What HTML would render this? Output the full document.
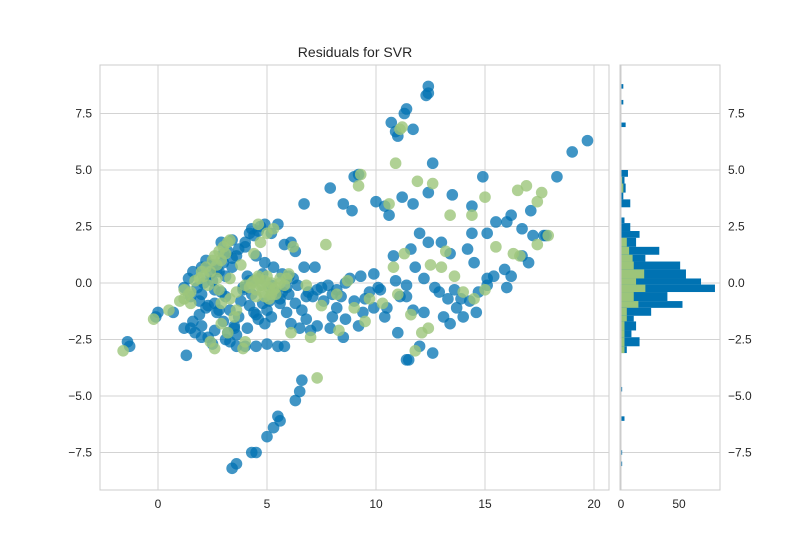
<!DOCTYPE html>
<html><head><meta charset="utf-8"><style>
body{margin:0;background:#fff;font-family:"Liberation Sans",sans-serif}
svg text{font-family:"Liberation Sans",sans-serif;fill:#262626}
</style></head><body>
<svg id="c" width="800" height="550">
<rect width="800" height="550" fill="#fff"/>
<text x="355" y="57" font-size="14" text-anchor="middle">Residuals for SVR</text>
<g id="main"></g>
<g id="hist"></g>
</svg>
<script>
const xTicks=[0,5,10,15,20];
const yTicks=[-7.5,-5.0,-2.5,0.0,2.5,5.0,7.5];
const histTicks=[0,50];
const trainX=[3.4,3.6,4.3,4.5,5.0,5.3,5.5,5.6,6.3,6.5,6.6,-1.4,-1.3,-0.1,0.0,1.3,1.2,0.7,3.3,3.6,4,4.5,5,5.5,5.8,11.4,11.3,12.4,12.3,12.4,10.7,10.9,11.7,11.0,12.6,19.0,19.7,18.3,9.0,9.2,7.9,6.7,8.5,8.9,10.0,10.4,10.6,11.2,11.7,12.4,13.5,14.4,14.9,14.4,15.1,16.2,16.7,16.0,17.1,17.8,17.7,14.5,16.2,16.7,17.2,15.9,15.4,15.1,15.5,12.0,11.6,12.4,13.0,13.4,14.2,10.8,12.2,11.8,12.7,12.9,11.7,12.2,11.1,11.4,10.5,10.2,9.9,8.8,8.2,8.6,9.0,9.5,9.7,10.1,13.6,13.3,13.7,14.0,13.4,14.3,14.7,15.1,12.0,12.6,11.4,11.5,11.0,8.2,8.6,9.2,8.5,7.9,7.3,6.8,6.6,6.3,6.8,7.3,7.8,7.1,7.6,6.5,7.0,6.1,5.9,5.6,6.7,7.2,6.3,5.8,5.2,4.9,4.4,4.0,3.6,3.4,3.1,2.9,2.6,2.2,1.9,1.6,1.5,1.7,2.0,2.3,2.5,3.1,3.0,3.3,3.8,4.2,4.6,4.9,5.2,5.4,4.7,4.1,3.9,2.8,2.5,2.2,2.0,1.6,1.4,1.2,1.5,2.0,2.5,3.2,3.0,4.2,4.7,5.5,6.1,5.9,6.2,6.0,5.7,4.3,3.7,3.5,2.7,5.3,4.5,8.4,9.3,9.9,10.4,8.0,9.4,14.6,13.9,16.0,17.0,13.1,10.9,11.4,
1.8,2.1,2.4,2.7,3.0,3.4,3.7,4.0,4.3,4.6,4.9,5.2,2.0,2.6,3.2,3.6,4.1,4.5,5.0,1.9,2.3,2.8,3.5,4.4,4.8,5.6,6.4,6.9,7.5,8.0,2.6,3.1,3.9,4.2,2.9,3.4,4.8,5.1,5.7,6.0];
const trainY=[-8.2,-8.0,-7.5,-7.5,-6.8,-6.4,-5.9,-6.1,-5.2,-4.8,-4.3,-2.6,-2.8,-1.5,-1.3,-3.2,-2.0,-1.3,-2.6,-2.8,-2.8,-2.8,-2.7,-2.8,-2.8,7.7,7.5,8.7,8.3,8.4,7.1,6.7,6.8,6.5,5.3,5.8,6.3,4.7,4.7,4.8,4.2,3.5,3.5,3.2,3.6,3.4,3.0,3.8,3.5,4.0,3.9,3.4,4.7,2.2,2.2,3.0,2.4,2.7,3.2,2.1,2.1,0.9,0.3,1.2,2.1,0.6,0.3,0.2,2.7,2.2,1.5,1.8,1.8,1.3,1.5,1.2,0.2,0.7,-0.2,-0.4,-1.2,-1.3,-0.6,-0.6,-1.1,-0.3,0.4,0.2,-0.3,0.0,-0.8,-0.7,-0.4,-0.2,-0.3,-0.7,-1.1,-1.5,-1.8,-0.8,-0.4,-0.1,-2.8,-3.1,-3.4,-3.4,-2.2,-1.1,-1.6,-1.9,-2.4,-2.0,-1.9,-1.6,-1.2,-0.9,-0.6,-0.3,-0.1,-0.6,-0.8,-2.0,-2.1,-1.8,-1.3,-0.9,0.7,0.7,1.4,1.7,2.2,2.6,2.1,1.6,1.2,0.7,0.3,-0.4,-0.9,-1.1,-1.4,-1.7,-2.0,-2.2,-2.4,-2.4,-2.7,-2.5,-1.7,-1.2,-0.8,-1.0,-1.6,-1.8,-1.5,-0.4,0.2,0.3,-0.2,0.5,0.8,1.0,0.7,0.5,0.2,-0.2,-0.6,-0.5,0.1,1.4,1.3,2.2,2.5,2.6,1.8,-0.2,0.2,-0.5,0.4,-0.5,-1.5,-2.0,-1.3,0.7,1.2,-0.6,0.3,-1.1,-1.5,-1.5,-1.3,-1.3,-0.7,-0.2,0.9,-1.5,0.1,-0.1,
-0.2,0.0,0.4,0.6,0.9,1.1,1.5,1.8,2.4,2.3,0.9,-0.1,-1.9,-2.1,-2.2,-2.3,-2.0,-1.4,-1.2,-0.8,-1.0,-1.2,-1.9,-1.3,-0.9,-0.7,-0.1,-0.4,-0.2,-0.5,-0.3,-0.6,-0.3,0.1,1.8,1.9,0.4,-0.8,-0.4,0.3];
const testX=[-1.6,-0.2,0.5,1.0,1.2,1.5,1.7,1.9,2.1,2.4,2.7,2.9,3.1,2.3,2.8,3.3,3.6,4.0,4.3,4.5,4.7,4.9,5.1,5.3,5.6,5.9,4.6,4.9,5.2,4.4,4.7,5.0,5.3,4.6,3.8,3.3,3.6,2.9,2.4,3.2,2.6,3.9,1.5,6.2,7.7,6.8,8.2,7.5,6.1,8.3,9.5,7.0,7.3,9.3,9.2,10.9,11.9,12.6,13.4,14.4,15.0,16.5,16.9,17.6,17.4,17.9,11.1,11.2,10.6,11.3,12.5,13.0,13.6,14.0,14.5,15.0,16.6,17.4,11.0,11.6,9.7,10.3,12.1,11.8,12.4,13.2,15.5,16.3,10.8,8.7,9.0,
2.0,2.2,2.5,2.6,2.8,3.0,3.2,3.3,4.2,4.4,4.6,4.8,5.0,5.2,5.4,5.6,4.5,4.8,5.1,5.4,2.9,3.5,4.0,1.2,1.4,2.7,5.8,6.0];
const testY=[-3.0,-1.6,-1.2,-0.8,-0.7,-0.4,0.1,0.2,0.3,0.5,0.8,1.0,1.3,-0.1,-0.3,-0.7,-0.4,-0.1,0.0,-0.3,-0.1,0.1,-0.2,-0.3,0.0,0.2,0.3,-0.6,-0.5,1.3,1.8,2.2,2.4,2.6,0.8,0.2,-1.2,-1.8,-2.6,-2.2,-2.9,-2.9,-0.9,1.6,1.7,-0.1,-0.5,-1.0,-2.2,-2.1,-1.7,-2.4,-4.2,4.8,4.3,5.3,4.5,4.4,3.0,3.0,3.8,4.1,4.3,4.0,3.6,2.1,6.8,6.9,3.5,1.3,0.8,0.7,0.3,-0.4,-0.7,-0.3,1.2,1.7,-0.5,-1.4,-0.7,-0.9,-2.2,-3.0,-2.0,1.4,1.6,1.3,0.7,0.1,-1.1,
0.5,0.7,1.0,1.2,1.4,1.6,1.8,1.9,-0.2,0.1,0.2,-0.1,0.3,0.0,-0.2,0.2,-0.6,-0.4,-0.7,-0.5,-0.9,-1.5,-2.6,-0.3,-0.5,0.2,-0.1,0.4];
const binLo=[8.6,7.9,6.9,4.7,4.4,4.0,3.7,3.35,2.65,2.3,2.0,1.6,1.25,0.95,0.6,0.2,-0.07,-0.4,-0.8,-1.1,-1.45,-1.7,-2.1,-2.4,-2.8,-3.1,-4.8,-6.1,-7.6,-8.1];
const binHi=[8.8,8.1,7.1,5.0,4.7,4.4,4.0,3.7,2.9,2.65,2.3,2.0,1.6,1.25,0.95,0.6,0.2,-0.07,-0.4,-0.8,-1.1,-1.45,-1.7,-2.1,-2.4,-2.8,-4.6,-5.9,-7.4,-7.9];
const trainCounts=[2,2,4,6,3,4,2,8,3,8,16,13,33,21,51,56,69,81,40,53,26,11,13,9,16,5,1,3,1,1];
const testCounts=[0,0,0,0,1,2,0,0,0,0,0,5,7,10,11,20,13,21,11,15,5,5,3,3,3,3,0,0,0,0];

const NS="http://www.w3.org/2000/svg";
function mk(t,a,p){const e=document.createElementNS(NS,t);for(const k in a)e.setAttribute(k,a[k]);p.appendChild(e);return e;}
const X0=100,X1=609,Y0=65,Y1=490;
const sx=v=>158+v*21.8;
const sy=v=>283-v*22.6;
const H0=620,H1=720;
const hx=v=>621+v*1.16;
const main=document.getElementById('main'),hist=document.getElementById('hist');
mk('rect',{x:X0,y:Y0,width:X1-X0,height:Y1-Y0,fill:'#fff',stroke:'#cccccc','stroke-width':1},main);
mk('rect',{x:H0,y:Y0,width:H1-H0,height:Y1-Y0,fill:'#fff',stroke:'#cccccc','stroke-width':1},hist);
xTicks.forEach(t=>{
 const l=mk('line',{x1:sx(t),x2:sx(t),y1:Y0,y2:Y1,stroke:'#d3d3d3'},main);
 
 
 const tx=mk('text',{x:sx(t),y:Y1+18,'font-size':12,'text-anchor':'middle'},main);
 tx.textContent=t;
 
 
});
yTicks.forEach(t=>{
 const l=mk('line',{x1:X0,x2:X1,y1:sy(t),y2:sy(t),stroke:'#d3d3d3'},main);
 
 
 const l2=mk('line',{x1:H0,x2:H1,y1:sy(t),y2:sy(t),stroke:'#d3d3d3'},hist);
 
 
 const tx=mk('text',{x:X0-8,y:sy(t)+4,'font-size':12,'text-anchor':'end'},main);
 tx.textContent=(t<0?'\u2212':'')+Math.abs(t).toFixed(1);
 
 
 const t2=mk('text',{x:H1+8,y:sy(t)+4,'font-size':12},hist);
 t2.textContent=(t<0?'\u2212':'')+Math.abs(t).toFixed(1);
 
 
});
histTicks.forEach(t=>{
 const tx=mk('text',{x:hx(t),y:Y1+18,'font-size':12,'text-anchor':'middle'},hist);
 tx.textContent=t;
 
 
});
trainX.forEach((x,i)=>{
 const c=mk('circle',{cx:sx(x),cy:sy(trainY[i]),r:5.8,fill:'#0072b2','fill-opacity':0.75},main);
 
 
});
testX.forEach((x,i)=>{
 const c=mk('circle',{cx:sx(x),cy:sy(testY[i]),r:5.8,fill:'#9cc57a','fill-opacity':0.8},main);
 
 
});
binLo.forEach((lo,i)=>{
 const y=sy(binHi[i]),h=sy(lo)-sy(binHi[i]);
 if(trainCounts[i]>0){
  const r=mk('rect',{x:hx(0),y:y,width:hx(trainCounts[i])-hx(0),height:h,fill:'#0072b2'},hist);
  
  
 }
 if(testCounts[i]>0){
  const r=mk('rect',{x:hx(0),y:y,width:hx(testCounts[i])-hx(0),height:h,fill:'#9cc57a'},hist);
  
  
 }
});
const z=mk('line',{x1:hx(0),x2:hx(0),y1:Y0,y2:Y1,stroke:'#cccccc'},hist);


</script>
</body></html>
